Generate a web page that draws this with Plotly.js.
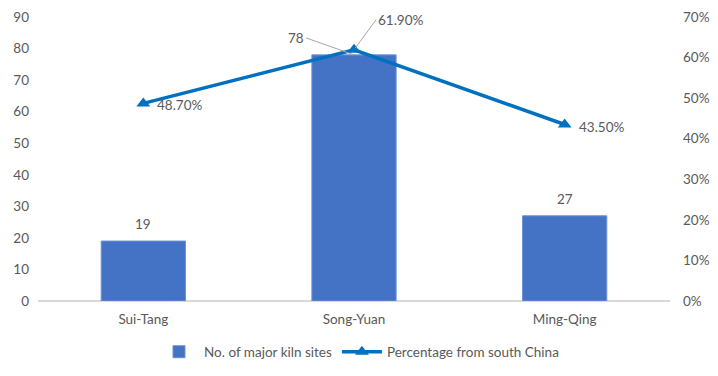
<!DOCTYPE html>
<html><head><meta charset="utf-8">
<script src="https://cdn.plot.ly/plotly-3.0.1.min.js"></script>
<style>html,body{margin:0;padding:0;background:#fff}#c{width:718px;height:376px}</style>
</head><body><div id="c"></div>
<script>
const categories = ["Sui-Tang", "Song-Yuan", "Ming-Qing"];
const kilnSites = [19, 78, 27];
const southPct = [0.487, 0.619, 0.435];
const leftTicks = [0,10,20,30,40,50,60,70,80,90];
const rightTicks = [0,0.1,0.2,0.3,0.4,0.5,0.6,0.7];

const txt = '#595959';
const F = 'Lato, "Open Sans", sans-serif';
const FS = 13.5;
const idx = categories.map((c,i)=>i);

const bars = {
  type:'bar', x: idx, y: kilnSites, name:'No. of major kiln sites',
  marker:{color:'#4472C4', line:{color:'#6E93D6', width:1}}, width:0.4,
  cliponaxis:false, hoverinfo:'none'
};
const line = {
  type:'scatter', mode:'lines+markers', x: idx, y: southPct, yaxis:'y2',
  name:'Percentage from south China',
  line:{color:'#0070C0', width:3.5}, marker:{symbol:'triangle-up', size:12, color:'#0070C0'},
  cliponaxis:false, hoverinfo:'none'
};

const ann = [];
kilnSites.forEach((v,i)=>{
  if(i===1){
    ann.push({x:i, y:v, xref:'x', yref:'y', text:String(v), showarrow:true,
      arrowhead:0, arrowcolor:'#A6A6A6', arrowwidth:1, ax:-48, ay:-17, xanchor:'right', standoff:0,
      font:{color:txt,size:FS,family:F}});
  } else {
    ann.push({x:i, y:v, xref:'x', yref:'y', text:String(v), showarrow:false,
      yanchor:'bottom', yshift:7, font:{color:txt,size:FS,family:F}});
  }
});
southPct.forEach((v,i)=>{
  const label = (v*100).toFixed(2)+'%';
  if(i===1){
    ann.push({x:i, y:v, xref:'x', yref:'y2', text:label, showarrow:true, arrowhead:0,
      arrowcolor:'#A6A6A6', arrowwidth:1, ax:22, ay:-30, xanchor:'left', standoff:2,
      font:{color:txt,size:FS,family:F}});
  } else {
    ann.push({x:i, y:v, xref:'x', yref:'y2', text:label, showarrow:false,
      xanchor:'left', xshift:12, yshift:-2, font:{color:txt,size:FS,family:F}});
  }
});

const layout = {
  width:718, height:376, margin:{l:38, r:48, t:17, b:75},
  paper_bgcolor:'#fff', plot_bgcolor:'#fff', showlegend:true,
  font:{family:F, color:txt, size:FS},
  xaxis:{tickmode:'array', tickvals:idx, ticktext:categories, range:[-0.5,2.5],
    showgrid:false, zeroline:false, showline:false, ticks:'', tickfont:{size:FS,color:txt}, ticklabelstandoff:8},
  yaxis:{range:[0,90], tickvals:leftTicks, showgrid:false, zeroline:true, zerolinecolor:'#D9D9D9',
    zerolinewidth:1.5, showline:false, ticks:'', tickfont:{size:FS,color:txt}, ticklabelstandoff:8},
  yaxis2:{range:[0,0.7], tickvals:rightTicks, tickformat:'.0%', overlaying:'y', side:'right',
    showgrid:false, zeroline:false, showline:false, ticks:'', tickfont:{size:FS,color:txt}, ticklabelstandoff:12},
  legend:{orientation:'h', x:0.5, xanchor:'center', xref:'container', y:0.064, yanchor:'middle', yref:'container',
    font:{size:FS,color:txt,family:F}, traceorder:'normal', itemwidth:40},
  annotations: ann
};
Plotly.newPlot('c', [bars, line], layout, {staticPlot:true, displayModeBar:false});
</script></body></html>
